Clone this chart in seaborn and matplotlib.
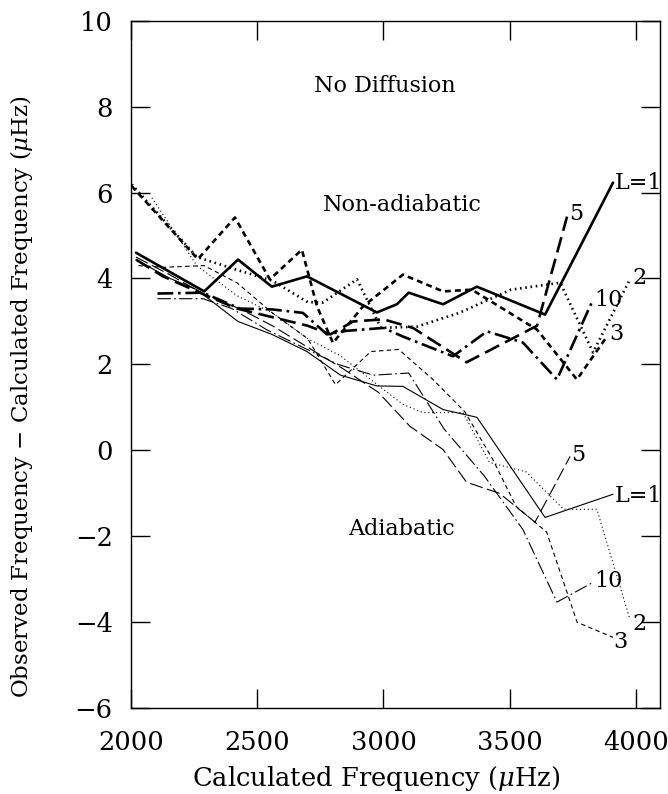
import numpy as np
import pandas as pd
import matplotlib
matplotlib.use("Agg")
import matplotlib.pyplot as plt
import seaborn as sns

# Frequency residuals (observed - calculated, in microHz) for each degree l,
# non-adiabatic models (upper bundle) and adiabatic models (lower bundle).
na_l1_f = [2020, 2290, 2424, 2558, 2697, 2974, 3053, 3100, 3236, 3370, 3640, 3909]
na_l1_r = [4.60, 3.70, 4.44, 3.81, 4.05, 3.21, 3.40, 3.67, 3.40, 3.81, 3.16, 6.23]

na_l2_f = [2003, 2261, 2420, 2560, 2700, 2760, 2895, 2990, 3133, 3300, 3505, 3700, 3830, 3976]
na_l2_r = [6.19, 4.50, 4.20, 3.95, 3.45, 3.44, 3.98, 2.85, 2.88, 3.20, 3.74, 3.90, 2.28, 3.98]

na_l3_f = [2003, 2265, 2412, 2550, 2677, 2737, 2800, 2919, 3077, 3236, 3350, 3608, 3766, 3885]
na_l3_r = [6.15, 4.45, 5.42, 3.98, 4.67, 3.35, 2.50, 3.35, 4.09, 3.70, 3.74, 2.81, 1.65, 2.65]

na_l5_f = [2020, 2127, 2300, 2420, 2560, 2700, 2790, 2880, 3000, 3117, 3329, 3608, 3727]
na_l5_r = [4.44, 4.05, 3.60, 3.30, 3.10, 2.90, 2.70, 3.00, 3.05, 2.85, 2.05, 2.90, 5.44]

na_l10_f = [2105, 2285, 2432, 2560, 2681, 2776, 2850, 3000, 3077, 3275, 3410, 3552, 3687, 3830]
na_l10_r = [3.65, 3.67, 3.30, 3.28, 3.20, 2.70, 2.78, 2.85, 2.65, 2.19, 2.77, 2.51, 1.65, 3.51]

ad_l1_f = [2020, 2155, 2261, 2424, 2558, 2697, 2830, 2974, 3077, 3236, 3370, 3640, 3909]
ad_l1_r = [4.44, 4.00, 3.74, 3.00, 2.70, 2.30, 1.75, 1.50, 1.49, 0.95, 0.77, -1.56, -1.02]

ad_l2_f = [2083, 2261, 2420, 2560, 2700, 2830, 2960, 3077, 3156, 3315, 3420, 3565, 3713, 3845, 3976]
ad_l2_r = [5.88, 4.30, 3.60, 3.20, 2.60, 2.20, 1.60, 1.07, 0.88, 0.88, -0.28, -0.50, -1.37, -1.37, -3.93]

ad_l3_f = [2030, 2127, 2290, 2420, 2560, 2700, 2810, 2950, 3060, 3196, 3322, 3432, 3525, 3646, 3767, 3909]
ad_l3_r = [4.30, 4.26, 4.30, 3.90, 3.20, 2.60, 1.53, 2.30, 2.35, 1.65, 0.90, -0.20, -1.30, -1.90, -4.00, -4.35]

ad_l5_f = [2020, 2150, 2300, 2430, 2560, 2700, 2840, 2980, 3105, 3236, 3329, 3460, 3600, 3739]
ad_l5_r = [4.50, 4.10, 3.60, 3.30, 2.90, 2.40, 1.90, 1.35, 0.56, 0.02, -0.74, -1.00, -1.67, -0.14]

ad_l10_f = [2105, 2285, 2400, 2540, 2680, 2820, 2960, 3100, 3240, 3400, 3552, 3687, 3830]
ad_l10_r = [3.53, 3.53, 3.30, 2.80, 2.40, 2.00, 1.75, 1.80, 0.50, -0.60, -1.84, -3.53, -3.07]

degrees = ["1", "2", "3", "5", "10"]

def frame(model, curves):
    parts = []
    for deg, (f, r) in zip(degrees, curves):
        parts.append(pd.DataFrame({"freq": f, "resid": r, "degree": deg, "model": model}))
    return pd.concat(parts, ignore_index=True)

na = frame("Non-adiabatic", [(na_l1_f, na_l1_r), (na_l2_f, na_l2_r), (na_l3_f, na_l3_r),
                             (na_l5_f, na_l5_r), (na_l10_f, na_l10_r)])
ad = frame("Adiabatic", [(ad_l1_f, ad_l1_r), (ad_l2_f, ad_l2_r), (ad_l3_f, ad_l3_r),
                         (ad_l5_f, ad_l5_r), (ad_l10_f, ad_l10_r)])

sns.set_style("ticks")
plt.rcParams["font.family"] = ["DejaVu Serif"]
plt.rcParams["mathtext.fontset"] = "dejavuserif"
plt.rcParams["text.color"] = "black"
plt.rcParams["axes.labelcolor"] = "black"
plt.rcParams["xtick.color"] = "black"
plt.rcParams["ytick.color"] = "black"

fig = plt.figure(figsize=(6.68, 7.94), dpi=100)
ax = fig.add_axes([0.196, 0.108, 0.792, 0.866])

# dash patterns are in units of line width
thick_dashes = {"1": "", "2": (0.6, 1.4), "3": (2.2, 1.6), "5": (6, 2.5), "10": (6, 1.8, 1, 1.8)}
thin_dashes = {"1": "", "2": (1, 2.5), "3": (4, 3), "5": (12, 4), "10": (12, 3, 1.5, 3)}

sns.lineplot(data=na, x="freq", y="resid", style="degree", units="degree", estimator=None,
             sort=False, dashes=thick_dashes, color="black", linewidth=1.9, legend=False, ax=ax)
sns.lineplot(data=ad, x="freq", y="resid", style="degree", units="degree", estimator=None,
             sort=False, dashes=thin_dashes, color="black", linewidth=0.8, legend=False, ax=ax)

ax.set_xlim(2000, 4095)
ax.set_ylim(-6, 10)
ax.set_xticks([2000, 2500, 3000, 3500, 4000])
ax.set_yticks(np.arange(-6, 11, 2))
ax.set_yticklabels(["\u22126", "\u22124", "\u22122", "0", "2", "4", "6", "8", "10"])
ax.tick_params(direction="in", length=14, width=1, top=True, right=True,
               labelsize=18.5, color="black", labelcolor="black")
ax.tick_params(axis="x", pad=16)
ax.tick_params(axis="y", pad=13)
for s in ax.spines.values():
    s.set_linewidth(1.0)
    s.set_color("black")

ax.set_xlabel(r"Calculated Frequency ($\mu$Hz)", fontsize=18.5, va="center", color="black")
ax.set_ylabel(r"Observed Frequency $-$ Calculated Frequency ($\mu$Hz)", fontsize=16.5,
              va="center", color="black")
ax.xaxis.set_label_coords(0.463, -0.102)
ax.yaxis.set_label_coords(-0.206, 0.453)

txt = dict(fontsize=16, color="black")
ax.text(3006, 8.49, "No Diffusion", ha="center", va="center", **txt)
ax.text(3075, 5.72, "Non-adiabatic", ha="center", va="center", **txt)
ax.text(3073, -1.84, "Adiabatic", ha="center", va="center", **txt)

# degree labels at line ends
lab = dict(fontsize=16, color="black", va="center", ha="left")
ax.text(3915, 6.23, "L=1", **lab)
ax.text(3735, 5.5, "5", **lab)
ax.text(3985, 4.0, "2", **lab)
ax.text(3835, 3.5, "10", **lab)
ax.text(3893, 2.7, "3", **lab)
ax.text(3745, -0.1, "5", **lab)
ax.text(3915, -1.05, "L=1", **lab)
ax.text(3835, -3.05, "10", **lab)
ax.text(3985, -4.05, "2", **lab)
ax.text(3910, -4.45, "3", **lab)

fig.savefig("out.png", dpi=100)
